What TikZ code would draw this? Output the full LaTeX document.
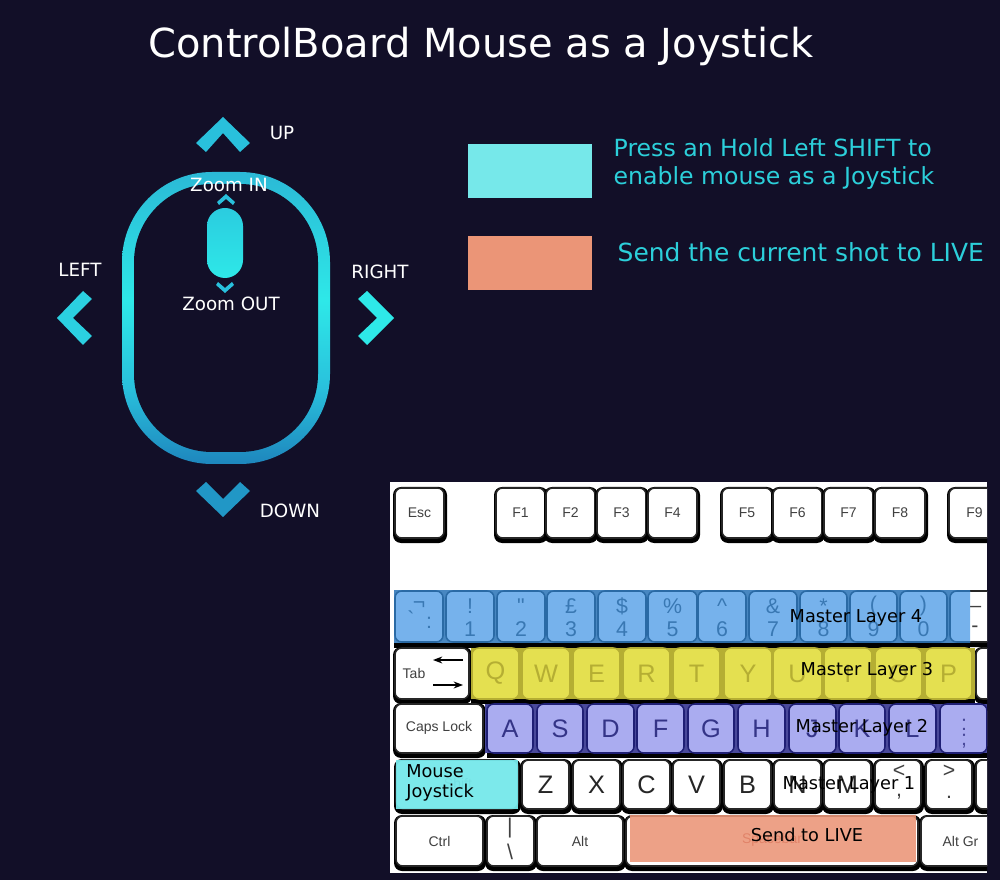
\documentclass[tikz,border=0pt]{standalone}
\usepackage{fontspec}
\setmainfont{DejaVu Sans}
\newfontfamily\keyfont{Liberation Sans}
\usetikzlibrary{arrows.meta}
\definecolor{pagebg}{HTML}{120F28}
\definecolor{glowcyan}{HTML}{2EE8E8}
\definecolor{glowdeep}{HTML}{1E86BD}
\definecolor{glowmid}{HTML}{29C0DC}
\definecolor{glowtop}{HTML}{2BB9D6}
\definecolor{legendcyan}{HTML}{76E8EA}
\definecolor{legendsalmon}{HTML}{EB9577}
\definecolor{legendtext}{HTML}{2CCFDA}
\definecolor{bluecap}{HTML}{76B2EC}
\definecolor{blueline}{HTML}{2A6AA5}
\definecolor{yellowcap}{HTML}{E4E050}
\definecolor{yellowline}{HTML}{B5AE33}
\definecolor{purplecap}{HTML}{AAACF0}
\definecolor{purpleline}{HTML}{1F1F75}
\pgfdeclareverticalshading{mouseglow}{100bp}{color(0bp)=(glowdeep); color(25bp)=(glowdeep); color(38bp)=(glowmid); color(53bp)=(glowcyan); color(75bp)=(glowtop); color(100bp)=(glowtop)}
\tikzset{
  keyshadow/.style={fill=black,rounded corners=6pt},
  keycap/.style={fill=white,draw=black!85,line width=1.15pt,rounded corners=5pt},
  bluerow/.style={keyshadow/.style={opacity=0},keycap/.append style={fill=bluecap,draw=blueline}},
  yellowrow/.style={keyshadow/.style={opacity=0},keycap/.append style={fill=yellowcap,draw=yellowline}},
  purplerow/.style={keyshadow/.style={opacity=0},keycap/.append style={fill=purplecap,draw=purpleline}},
  smallkey/.style={font=\keyfont\fontsize{10.5}{12}\selectfont,text=black!75},
  bigkey/.style={font=\keyfont\fontsize{19}{22}\selectfont,text=black!85},
  midkey/.style={font=\keyfont\fontsize{16}{18}\selectfont,text=black!75},
  mouselabel/.style={font=\fontsize{13.7}{16}\selectfont,text=white},
  layertext/.style={font=\fontsize{13.3}{16}\selectfont,text=black},
  legendlabel/.style={text=legendtext,align=left}
}
\newcommand{\keycaps}[4]{
  \foreach \a/\b/\t in {#4} {
    \fill[keyshadow] (\a-2,#1-1) rectangle (\b+3,#2+5);
    \draw[keycap] (\a,#1) rectangle (\b,#2);
    \node[#3] at ({(\a+\b)/2},{(#1+#2)/2}) {\t};
  }
}
\newcommand{\shiftcaps}[4]{
  \foreach \a/\b/\u/\l in {#4} {
    \fill[keyshadow] (\a-2,#1-1) rectangle (\b+3,#2+5);
    \draw[keycap] (\a,#1) rectangle (\b,#2);
    \node[#3] at ({(\a+\b)/2},#1+15) {\u};
    \node[#3] at ({(\a+\b)/2},#2-13) {\l};
  }
}
\newcommand{\mousebody}[5]{
  (#1,#2+#5) arc[start angle=180,end angle=90,radius=#5*0.75pt]
  -- (#3-#5,#2) arc[start angle=90,end angle=0,radius=#5*0.75pt]
  -- (#3,#4-#5) arc[start angle=0,end angle=-90,radius=#5*0.75pt]
  -- (#1+#5,#4) arc[start angle=-90,end angle=-180,radius=#5*0.75pt] -- cycle
}
\begin{document}
\begin{tikzpicture}[x=0.75pt,y=-0.75pt]
  \useasboundingbox (0,0) rectangle (1000,880);
  \fill[pagebg] (0,0) rectangle (1000,880);
  \node[font=\fontsize{30}{36}\selectfont,text=white] (title) at (481,46) {ControlBoard Mouse as a Joystick};

  \shade[shading=mouseglow] \mousebody{122}{172}{330}{464}{90};
  \fill[pagebg] \mousebody{134}{184}{318}{452}{78};
  \shade[top color=glowmid!70!glowcyan,bottom color=glowcyan,rounded corners=13.5pt] (207,208) rectangle (243,278);

  \fill[glowmid] (196,143) -- (223,117) -- (250,143) -- (240,152) -- (223,133) -- (206,152) -- cycle;
  \fill[glowdeep!70!glowmid] (196,491) -- (206,482) -- (223,499) -- (240,482) -- (250,491) -- (223,517) -- cycle;
  \fill[glowmid!60!glowcyan] (83,291) -- (92,299) -- (73,318) -- (92,336) -- (83,345) -- (57,318) -- cycle;
  \fill[glowcyan] (367,291) -- (358,299) -- (377,318) -- (358,336) -- (367,345) -- (394,318) -- cycle;
  \fill[glowmid] (217,202) -- (226,194) -- (235,202) -- (233,205) -- (226,199) -- (219,205) -- cycle;
  \fill[glowmid] (216,285) -- (218,282) -- (225,288) -- (232,282) -- (234,285) -- (225,293) -- cycle;

  \node[mouselabel] (up) at (282,133) {UP};
  \node[mouselabel] (down) at (290,511) {DOWN};
  \node[mouselabel] (leftlabel) at (80,270) {LEFT};
  \node[mouselabel] (rightlabel) at (380,272) {RIGHT};
  \node[mouselabel] (zoomin) at (229,185) {Zoom IN};
  \node[mouselabel] (zoomout) at (231,304) {Zoom OUT};

  \fill[legendcyan] (468,144) rectangle (592,198);
  \fill[legendsalmon] (468,236) rectangle (592,290);
  \node[legendlabel,anchor=west,font=\fontsize{17.7}{21.2}\selectfont] (shifttext) at (609,164) {Press an Hold Left SHIFT to\\enable mouse as a Joystick};
  \node[legendlabel,anchor=west,font=\fontsize{18.7}{22}\selectfont] (livetext) at (613,252) {Send the current shot to LIVE};

  \fill[white] (390,482) rectangle (987,873);
  \begin{scope}
    \clip (390,482) rectangle (987,873);
    \keycaps{488}{538}{smallkey}{395/444/Esc,496/545/F1,546/595/F2,597/646/F3,648/697/F4,722/772/F5,773/822/F6,824/873/F7,875/925/F8,949/1000/F9}

    \shiftcaps{591}{642}{midkey}{950/1000/\_/-}
    \fill[black] (394,643) rectangle (970,648);
    \fill[blueline!60!bluecap] (394,590) rectangle (970,643);
    \begin{scope}[bluerow]
      \shiftcaps{591}{642}{midkey,text=blueline!80!bluecap}{395/443/¬/{},446/494/!/1,497/545/"/2,547/595/£/3,598/646/\$/4,648/697/\%/5,698/746/\textasciicircum/6,749/797/\&/7,800/847/*/8,850/897/(/9,900/947/)/0}
      \path[keycap] (970,591) -- (950,591) -- (950,642) -- (970,642);
      \node[midkey,text=blueline!80!bluecap] (gravekey) at (411,619) {`};
      \node[midkey,text=blueline!80!bluecap] (brokenkey) at (429,623) {:};
    \end{scope}

    \keycaps{648}{699}{bigkey}{395/469/{},976/1000/{}}
    \fill[black] (471,699) rectangle (975,704);
    \fill[yellowline] (471,648) rectangle (975,699);
    \begin{scope}[yellowrow]
      \keycaps{648}{699}{bigkey,text=yellowline}{472/519/Q,522/570/W,573/620/E,623/670/R,673/720/T,724/772/Y,773/822/U,824/872/I,875/922/O,925/972/P}
    \end{scope}

    \keycaps{704}{753}{bigkey}{395/483/{}}
    \fill[black] (487,753) rectangle (987,758);
    \fill[purpleline!70!purplecap] (485,704) rectangle (987,753);
    \begin{scope}[purplerow]
      \keycaps{704}{753}{bigkey,text=purpleline!85!purplecap}{487/533/A,537/583/S,587/634/D,637/684/F,688/734/G,738/785/H,789/836/J,839/885/K,889/936/L,940/987/{}}
      \node[midkey,text=purpleline!70!purplecap] (colonkey) at (964,725) {:};
      \node[midkey,text=purpleline!70!purplecap] (semikey) at (964,741) {;};
    \end{scope}

    \keycaps{760}{809}{bigkey}{396/518/{},522/569/Z,573/620/X,623/670/C,673/720/V,724/771/B,774/821/N,824/871/M,875/921/{},926/972/{},976/1000/{}}
    \keycaps{816}{866}{smallkey}{396/483/Ctrl,487/534/{},537/623/Alt,626/918/{},921/1000/Alt Gr}
    \node[smallkey] (tabkey) at (414,673) {Tab};
    \node[smallkey] (capskey) at (439,728) {Caps Lock};
    \node[smallkey,text=black!70] (shiftkey) at (458,783) {Shift};
    \node[smallkey,text=red!60!black] (spacekey) at (772,840) {Spacebar};
    \node[midkey] (lesskey) at (899,771) {<};
    \node[midkey] (commakey) at (899,797) {,};
    \node[midkey] (morekey) at (949,771) {>};
    \node[midkey] (dotkey) at (949,797) {.};
    \node[midkey] (barkey) at (510,828) {|};
    \node[midkey] (slashkey) at (510,852) {\textbackslash};
    \draw[line width=1pt,-{Stealth[length=7pt]}] (463,660) -- (433,660);
    \draw[line width=1pt,-{Stealth[length=7pt]}] (433,685) -- (463,685);
  \end{scope}
  \fill[legendcyan,opacity=.95] (396,760) rectangle (518,809);
  \fill[legendsalmon,opacity=.88] (630,815) rectangle (916,862);

  \node[layertext] (layerfour) at (856,618) {Master Layer 4};
  \node[layertext] (layerthree) at (867,671) {Master Layer 3};
  \node[layertext] (layertwo) at (862,728) {Master Layer 2};
  \node[layertext] (layerone) at (849,785) {Master Layer 1};
  \node[layertext] (sendlive) at (807,835) {Send to LIVE};
  \node[layertext,align=left,anchor=west,inner sep=0pt,font=\fontsize{13.3}{15.5}\selectfont] (joystick) at (406,783) {Mouse\\Joystick};
\end{tikzpicture}
\end{document}
